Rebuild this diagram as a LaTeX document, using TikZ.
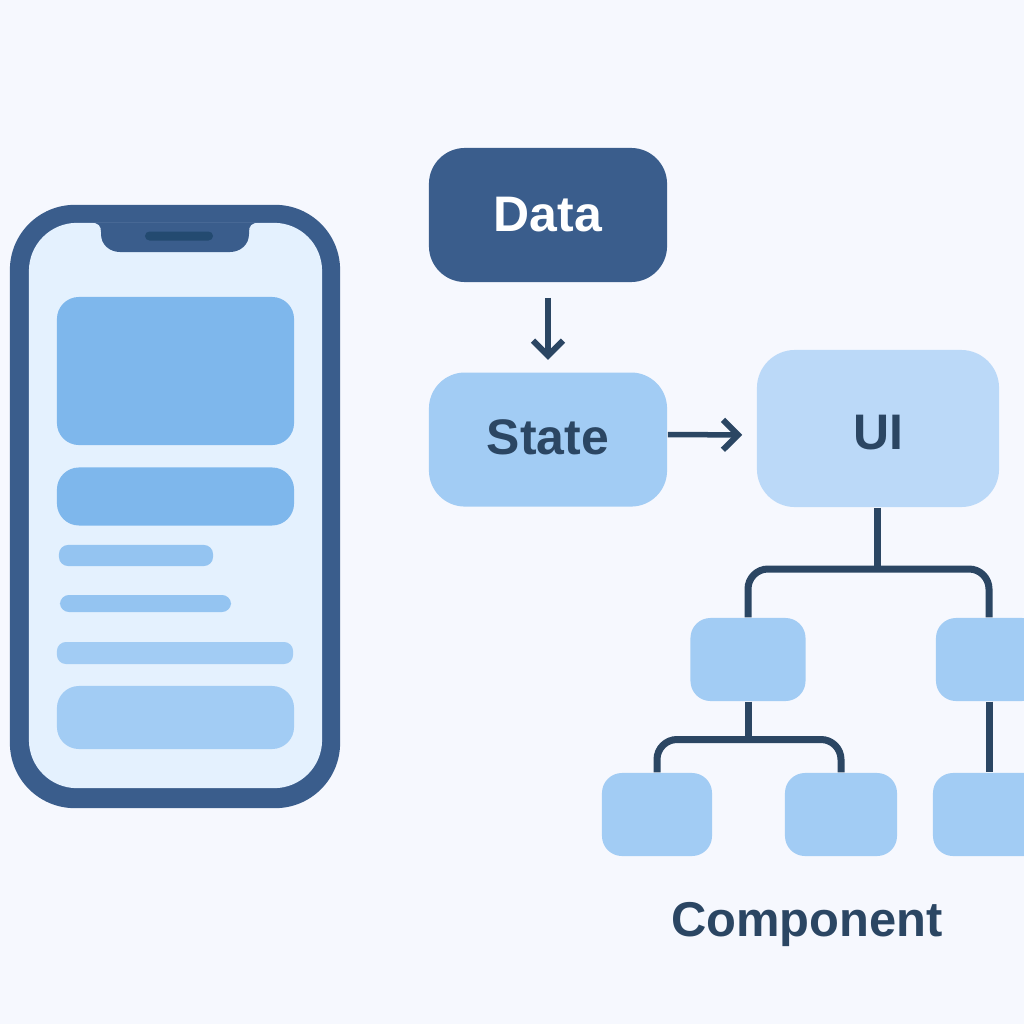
\documentclass[tikz,border=0pt]{standalone}
\usepackage{fontspec}
\setmainfont{Liberation Sans}
\usetikzlibrary{positioning, arrows.meta}
\definecolor{bgcol}{HTML}{F6F8FE}
\definecolor{navy}{HTML}{3A5D8C}
\definecolor{ink}{HTML}{2B4663}
\definecolor{slit}{HTML}{234A70}
\definecolor{screencol}{HTML}{E4F1FE}
\definecolor{cardA}{HTML}{7EB7EC}
\definecolor{cardB}{HTML}{A2CCF4}
\definecolor{cardC}{HTML}{BBD9F8}

\begin{document}
\begin{tikzpicture}[
  x=0.01cm, y=-0.01cm,
  block/.style={rectangle, inner sep=0pt, rounded corners=0.36cm, font=\bfseries\fontsize{14.2}{17}\selectfont},
  comp/.style={rectangle, inner sep=0pt, fill=cardB, rounded corners=0.2cm, minimum height=0.83cm},
  card/.style={rectangle, inner sep=0pt, minimum width=2.37cm, rounded corners=0.22cm},
  bar/.style={rectangle, inner sep=0pt, rounded corners=0.09cm},
  flow/.style={-{Straight Barb[length=0.15cm, width=0.3cm, line width=0.06cm]}, ink, line width=0.055cm},
  link/.style={ink, line width=0.07cm},
  branch/.style={link, rounded corners=0.2cm}
]
\clip (0,0) rectangle (1024,1024);
\fill[bgcol] (0,0) rectangle (1024,1024);

% ====== PHONE ======
\node[rectangle, inner sep=0pt, fill=navy, rounded corners=0.65cm, minimum width=3.3cm, minimum height=6.03cm] (body) at (175,506.5) {};
\node[rectangle, inner sep=0pt, fill=screencol, rounded corners=0.48cm, minimum width=2.93cm, minimum height=5.65cm] (screen) at (175.5,505.5) {};
\fill[navy] (90,222.5) .. controls (99,222.5) and (101,226) .. (101,232) -- (101,234) .. controls (101,245) and (110,252) .. (120,252)
  -- (230,252) .. controls (240,252) and (249,245) .. (249,234) -- (249,232) .. controls (249,226) and (251,222.5) .. (260,222.5) -- cycle;
\node[rectangle, inner sep=0pt, fill=slit, rounded corners=0.045cm, minimum width=0.68cm, minimum height=0.09cm] (speaker) at (179,236) {};

\node[card, fill=cardA, minimum height=1.48cm] (hero) at (175.5,371) {};
\node[card, fill=cardA, minimum height=0.58cm, below=0.21cm of hero] (banner) {};
\node[bar, fill=cardB!60!cardA, minimum width=1.54cm, minimum height=0.21cm] (lineA) at (136,555.5) {};
\node[bar, fill=cardB!60!cardA, minimum width=1.71cm, minimum height=0.17cm] (lineB) at (145.5,603.5) {};
\node[bar, fill=cardB, minimum width=2.36cm, minimum height=0.22cm] (lineC) at (175,653) {};
\node[card, fill=cardB, minimum height=0.63cm] (footer) at (175.5,717.5) {};

% ====== DATA FLOW ======
\node[block, fill=navy, text=white, minimum width=2.38cm, minimum height=1.34cm] (data) at (548,215) {Data};
\node[block, fill=cardB, text=ink, minimum width=2.38cm, minimum height=1.34cm, below=0.91cm of data, yshift=0.02cm, text depth=0.05cm] (state) {State};
\node[block, fill=cardC, text=ink, minimum width=2.42cm, minimum height=1.57cm, rounded corners=0.38cm, text height=0.43cm] (ui) at (878,428.5) {UI};

\draw[flow, shorten <=0.15cm, shorten >=0.12cm] (data.south) -- (state.north);
\draw[flow, shorten >=0.14cm] ([yshift=0.05cm]state.east) -- ([yshift=-0.065cm]ui.west);

% ====== COMPONENT TREE ======
\node[comp, minimum width=1.15cm] (compL) at (748,659.5) {};
\node[comp, minimum width=1.06cm] (compR) at (989,659.5) {};
\node[comp, minimum width=1.10cm] (leafA) at (657,814.5) {};
\node[comp, minimum width=1.12cm] (leafB) at (841,814.5) {};
\node[comp, minimum width=1.12cm] (leafC) at (989,814.5) {};
\coordinate (jointop) at (877,569);
\coordinate (jointlow) at (748,739.5);

\draw[link] (ui.south -| jointop) -- (jointop);
\draw[branch] (compL.north) |- (jointop) -| (compR.north);
\draw[link] (compL.south) -- (jointlow);
\draw[branch] (leafA.north) |- (jointlow) -| (leafB.north);
\draw[link] (compR.south) -- (leafC.north);

\node[font=\bfseries\fontsize{13.9}{17}\selectfont, text=ink] (caption) at (807,924) {Component};
\end{tikzpicture}
\end{document}
